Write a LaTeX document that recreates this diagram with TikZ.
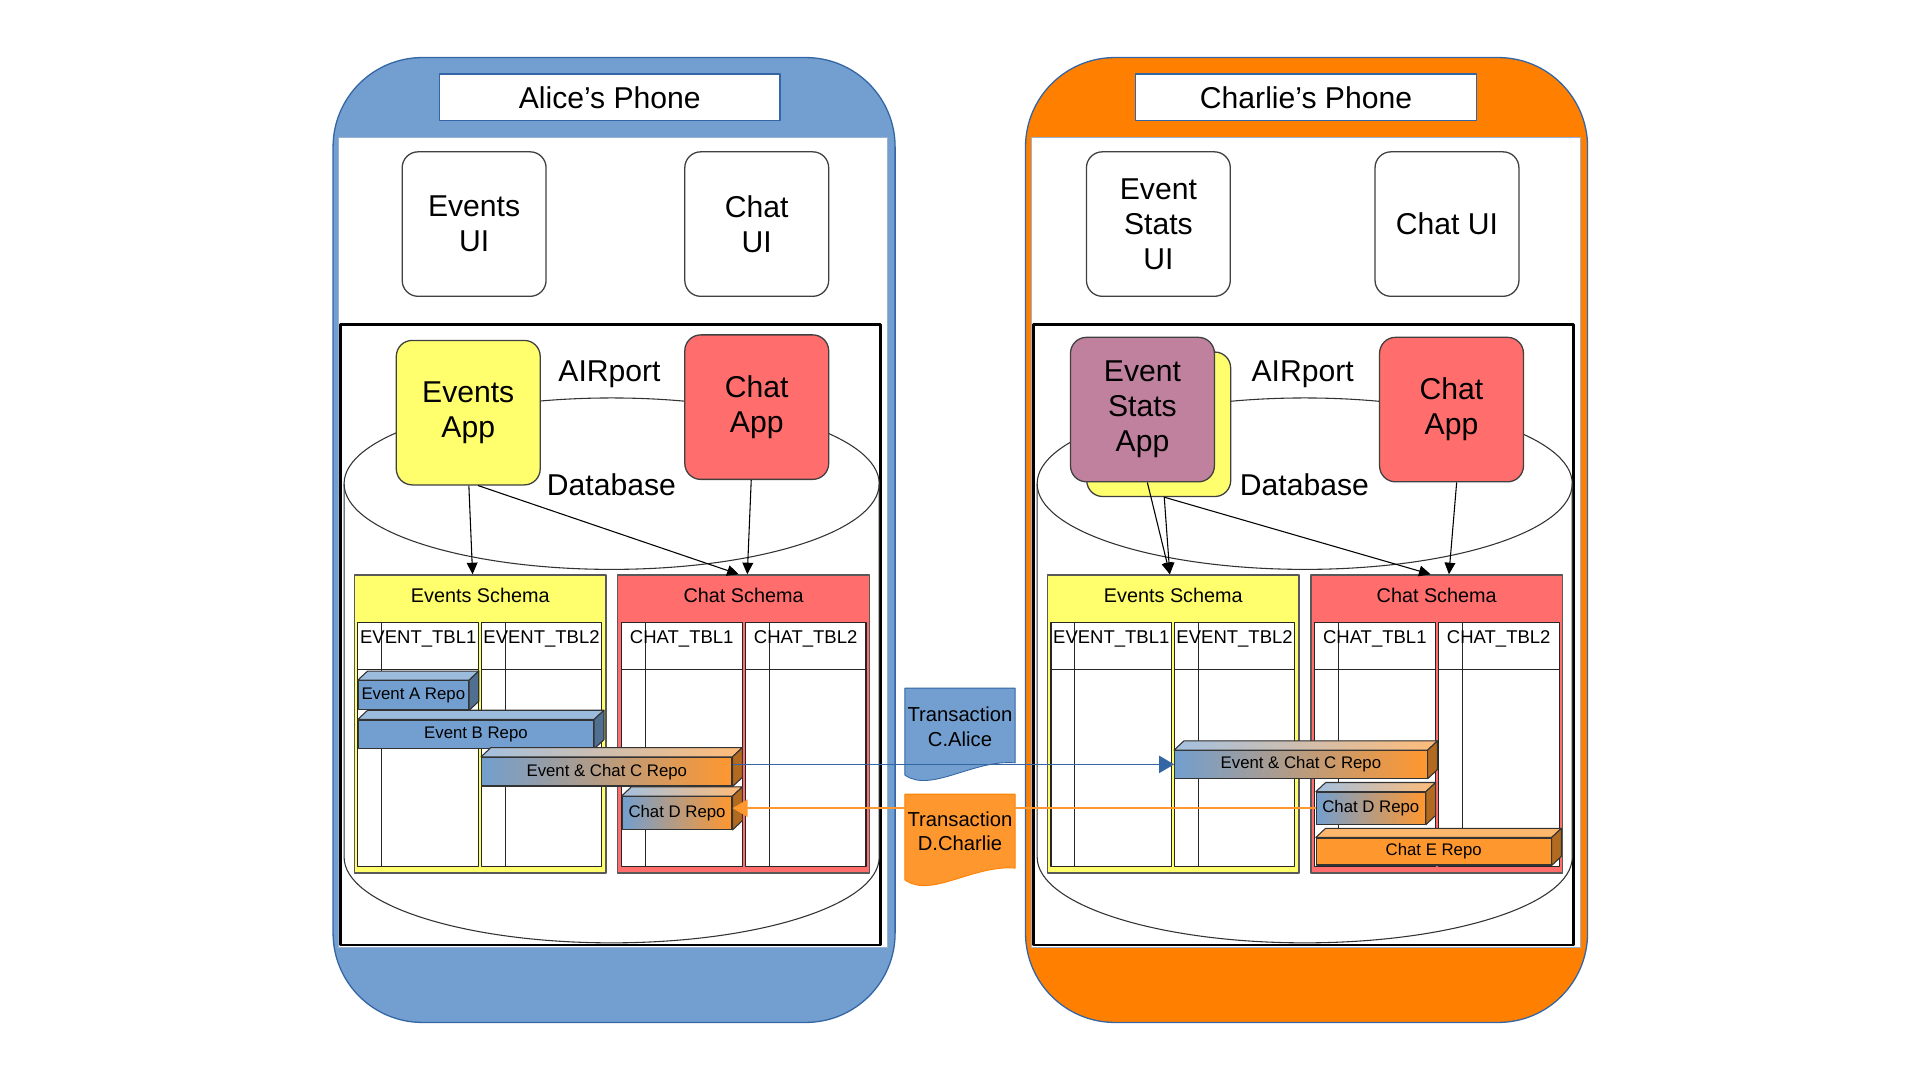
\documentclass[tikz,border=0pt]{standalone}
\usepackage{fontspec}
\setmainfont{Liberation Sans}
\usetikzlibrary{arrows.meta,positioning}
\definecolor{alicefill}{HTML}{729FCF}
\definecolor{charliefill}{HTML}{FF8000}
\definecolor{phoneedge}{HTML}{3465A4}
\definecolor{evyellow}{HTML}{FFFF6D}
\definecolor{chatred}{HTML}{FF6D6D}
\definecolor{statpurple}{HTML}{BF819E}
\definecolor{repoblue}{HTML}{729FCF}
\definecolor{repoorange}{HTML}{FF972F}
\begin{document}
\begin{tikzpicture}[x=0.2mm, y=-0.2mm, line join=round,
    big/.style={font=\fontsize{14}{16.3}\selectfont},
    phone/.style={draw=phoneedge, line width=0.6pt, rounded corners=14.6mm},
    screen/.style={draw=phoneedge!50, fill=white, line width=0.4pt},
    titlebox/.style={draw=phoneedge, fill=white, line width=0.6pt, minimum width=55.6mm, minimum height=7.6mm, inner sep=0pt, big},
    uibox/.style={draw=black!75, fill=white, line width=0.6pt, rounded corners=2.6mm, minimum width=23.5mm, minimum height=23.6mm, inner sep=0pt, align=center, big},
    dbframe/.style={draw=black, line width=1.1pt},
    dbline/.style={draw=black!80, line width=0.5pt},
    schema/.style={draw=black!65, line width=0.6pt, minimum width=41.1mm, minimum height=48.7mm, inner sep=0pt},
    schemahead/.style={font=\fontsize{9.2}{11}\selectfont, inner sep=0pt},
    tbl/.style={draw=black!85, line width=0.5pt},
    tblhead/.style={font=\fontsize{8.6}{10}\selectfont, inner sep=0pt},
    repo/.style={draw=black!80, line width=0.5pt, inner sep=0pt, font=\fontsize{7.8}{9}\selectfont},
    repob/.style={repo, fill=repoblue},
    repom/.style={repo, left color=repoblue, right color=repoorange},
    repoo/.style={repo, fill=repoorange},
    topb/.style={fill=repoblue!70!white}, sideb/.style={fill=repoblue!70!black},
    topm/.style={left color=repoblue!65!white, right color=repoorange!65!white}, sidem/.style={fill=repoorange!70!black},
    topo/.style={fill=repoorange!70!white}, sideo/.style={fill=repoorange!70!black},
    repoface/.style={draw=black!80, line width=0.5pt},
    txtext/.style={align=center, inner sep=0pt, font=\fontsize{9.4}{11.2}\selectfont},
    dataflow/.style={draw=black, line width=0.5pt, -{Triangle[length=5.4pt, width=5pt]}},
    txlink/.style={line width=0.8pt, -{Triangle[length=7pt, width=8pt]}},
  ]
\useasboundingbox (0,0) rectangle (1568,882);
%%%%%%%%%%%%%%%%%%%%%%%%%%%%%%%%%
\filldraw[phone, fill=alicefill] (272,47) rectangle (731,835);
\filldraw[phone, fill=charliefill] (837.5,47) rectangle (1296.5,835);
\filldraw[screen] (276,112) rectangle (725,774);
\filldraw[screen] (842,112) rectangle (1291,774);
\node[titlebox] (aTitle) at (498,79.5) {Alice's Phone};
\node[titlebox] (cTitle) at (1066.6,79.5) {Charlie's Phone};
\node[uibox] (aEvUI) at (387.2,183) {Events\\UI};
\node[uibox] (aChUI) at (618,183) {Chat\\UI};
\node[uibox] (cStUI) at (946,183) {Event\\Stats\\UI};
\node[uibox] (cChUI) at (1181.7,183) {Chat UI};
%%%%%%%%%%%%%%%%%%%%%%%%%%%%%%%%%
\foreach \ox/\p in {0/a, 566/c}{
  \draw[dbframe] (\ox+278,265) rectangle (\ox+719,772);
  \draw[dbline] (\ox+499.5,395) ellipse [x radius=43.7mm, y radius=14mm];
  \draw[dbline] (\ox+281,395) -- (\ox+281,700) arc [start angle=180, end angle=360, x radius=43.7mm, y radius=14mm] -- (\ox+718,395);
  \node[big] (\p Air) at (\ox+497.8,305.5) {AIRport};
  \node[big] (\p Db) at (\ox+499.3,396) {Database};
  \node[schema, fill=evyellow] (\p EvS) at (\ox+392.2,591.3) {};
  \node[schema, fill=chatred] (\p ChS) at (\ox+607.3,591.3) {};
  \node[schemahead] (\p EvSh) at (\ox+392.2,486) {Events Schema};
  \node[schemahead] (\p ChSh) at (\ox+607.3,486) {Chat Schema};
  \foreach \tx/\tn [count=\i] in {292.3/EVENT\_TBL1, 393/EVENT\_TBL2, 507.5/CHAT\_TBL1, 608.7/CHAT\_TBL2}{
    \filldraw[tbl, fill=white] (\ox+\tx,508.5) rectangle ++(98.5,199.3);
    \draw[tbl] (\ox+\tx,546.4) -- ++(98.5,0);
    \draw[tbl] (\ox+\tx+19.5,508.5) -- ++(0,199.3);
    \node[tblhead] (\p tbl\i) at (\ox+\tx+49.25,522) {\tn};
  }
}
%%%%%%%%%%%%%%%%%%%%%%%%%%%%%%%%%
\node[uibox, fill=evyellow] (aEvApp) at (382.4,337) {Events\\App};
\node[uibox, fill=chatred] (aChApp) at (618,332.5) {Chat\\App};
\node[uibox, fill=evyellow] (cStShadow) at (946.3,346.5) {};
\node[uibox, fill=statpurple] (cStApp) at (933,334.5) {Event\\Stats\\App};
\node[uibox, fill=chatred] (cChApp) at (1185.4,334.5) {Chat\\App};
%%%%%%%%%%%%%%%%%%%%%%%%%%%%%%%%%
\node[repob, minimum width=18mm, minimum height=4.76mm] (aRepoA) at (337.55,567.9) {Event A Repo};
\node[repob, minimum width=38.44mm, minimum height=4.62mm] (aRepoB) at (388.7,599.55) {Event B Repo};
\node[repom, minimum width=40.9mm, minimum height=4.68mm] (aRepoC) at (495.55,630.2) {Event \& Chat C Repo};
\node[repom, minimum width=17.96mm, minimum height=5.34mm] (aRepoD) at (552.9,663.95) {Chat D Repo};
\node[repom, minimum width=41.24mm, minimum height=4.5mm] (cRepoC) at (1062.4,624.25) {Event \& Chat C Repo};
\node[repom, minimum width=17.8mm, minimum height=5.2mm] (cRepoD) at (1119.5,660) {Chat D Repo};
\node[repoo, minimum width=38.34mm, minimum height=4.4mm] (cRepoE) at (1170.85,695.4) {Chat E Repo};
\foreach \r/\f in {aRepoA/b, aRepoB/b, aRepoC/m, aRepoD/m, cRepoC/m, cRepoD/m, cRepoE/o}{
  \filldraw[repoface, top\f] (\r.north west) -- ++(8,-7.5) -- ([shift={(8,-7.5)}]\r.north east) -- (\r.north east) -- cycle;
  \filldraw[repoface, side\f] (\r.north east) -- ++(8,-7.5) -- ([shift={(8,-7.5)}]\r.south east) -- (\r.south east) -- cycle;
}
%%%%%%%%%%%%%%%%%%%%%%%%%%%%%%%%%
\filldraw[draw=phoneedge, fill=repoblue, line width=0.4pt] (739,562) -- (829,562) -- (829,623) .. controls (795,620) and (760,648) .. (739,633) -- cycle;
\filldraw[draw=charliefill, fill=repoorange, line width=0.4pt] (739,648.5) -- (829,648.5) -- (829,709) .. controls (795,706) and (760,734) .. (739,718.6) -- cycle;
\node[txtext] (txC) at (784,593.5) {Transaction\\C.Alice};
\node[txtext] (txD) at (784,679) {Transaction\\D.Charlie};
%%%%%%%%%%%%%%%%%%%%%%%%%%%%%%%%%
\draw[dataflow] ([xshift=0.1mm]aEvApp.south) -- ([xshift=-1.25mm]aEvS.north);
\draw[dataflow] ([xshift=1.6mm]aEvApp.south) -- ([xshift=-0.8mm]aChS.north);
\draw[dataflow] ([xshift=-0.9mm]aChApp.south) -- ([xshift=0.6mm]aChS.north);
\draw[dataflow] ([xshift=0.8mm]cStApp.south) -- ([xshift=-0.57mm]cEvS.north);
\draw[dataflow] ([xshift=0.9mm]cStShadow.south) -- ([xshift=-0.57mm]cEvS.north);
\draw[dataflow] ([xshift=0.9mm]cStShadow.south) -- ([xshift=-1mm]cChS.north);
\draw[dataflow] ([xshift=0.84mm]cChApp.south) -- ([xshift=2mm]cChS.north);
\draw[txlink, phoneedge] (aRepoC.east |- cRepoC.west) -- (cRepoC.west);
\draw[txlink, repoorange] (cRepoD.west) -- (cRepoD.west -| aRepoD.east);
%%%%%%%%%%%%%%%%%%%%%%%%%%%%%%%%%
\end{tikzpicture}
\end{document}
